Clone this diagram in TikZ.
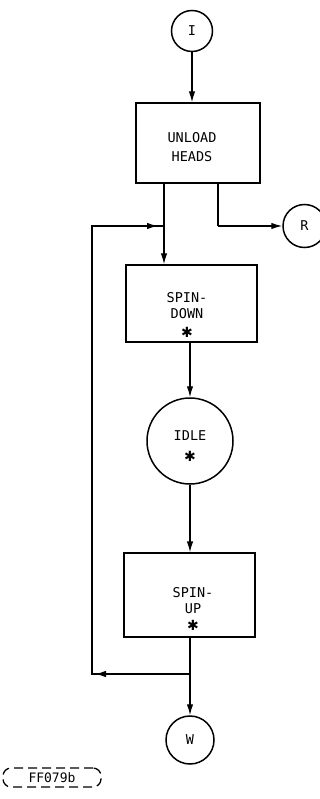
\documentclass[tikz,border=0pt]{standalone}
\usepackage{fontspec}
\setmonofont{DejaVu Sans Mono}
\newfontfamily\symfont{DejaVu Sans}
\usetikzlibrary{arrows.meta}
\begin{document}
\begin{tikzpicture}[x=1pt,y=-1pt,
  line width=1.3pt,
  stepbox/.style={draw,minimum width=#1,inner sep=0pt},
  conn/.style={draw,circle,inner sep=0pt,line width=1.5pt},
  lbl/.style={font=\ttfamily\fontsize{13.5}{16}\selectfont,align=center,inner sep=0pt},
  star/.style={font=\symfont\fontsize{14}{14}\selectfont,inner sep=0pt},
  arr/.style={-{Latex[length=11pt,width=6.5pt]}},
]
\useasboundingbox (0,0) rectangle (320,799);
\clip (0,0) rectangle (320,799);
% connectors (circles)
\node[conn,minimum size=41pt] (I) at (192,31) {};
\node[lbl] at (I) {I};
\node[conn,minimum size=43pt] (R) at (304.5,226) {};
\node[lbl] at (R) {R};
\node[conn,minimum size=86pt] (idle) at (190,441) {};
\node[lbl] (idlet) at (190,436) {IDLE};
\node[star] (idles) at (190,456) {✱};
\node[conn,minimum size=48pt] (W) at (190,740) {};
\node[lbl] at (W) {W};
% boxes
\node[stepbox=124pt,minimum height=80pt] (unload) at (198,143) {};
\node[lbl,font=\ttfamily\fontsize{13.5}{19.5}\selectfont] (unloadt) at (192,147) {UNLOAD\\HEADS};
\node[stepbox=131pt,minimum height=77pt] (down) at (191.5,303.5) {};
\node[lbl] (downt) at (187,306) {SPIN-\\DOWN};
\node[star] (downs) at (187,332) {✱};
\node[stepbox=131pt,minimum height=84pt] (up) at (189.5,595) {};
\node[lbl] (upt) at (193,601) {SPIN-\\UP};
\node[star] (ups) at (193,625) {✱};
% coordinates
\coordinate (uA) at (164,183);
\coordinate (uB) at (218,183);
\coordinate (rC) at (218,226);
\coordinate (j1) at (164,226);
\coordinate (tl) at (92,226);
\coordinate (bl) at (92,674);
\coordinate (j2) at (190,674);
% connectors
\draw[arr] (I.south) -- (I.south |- unload.north);
\draw[arr] (uA) -- (uA |- down.north);
\draw (uB) -- (rC);
\draw[arr] (rC) -- (R.west);
\draw[arr] (down.south -| idle.north) -- (idle.north);
\draw[arr] (idle.south) -- (idle.south |- up.north);
\draw[arr] (up.south -| W.north) -- (W.north);
\draw (j2) -- (bl) -- (tl) -- (j1);
\draw[arr] (j2) -- ([xshift=3pt]bl);
\draw[arr] (tl) -- ([xshift=-6pt]j1);
% label
\node[draw,dashed,dash pattern=on 9pt off 5pt,rounded corners=8pt,minimum width=98pt,minimum height=19pt,inner sep=0pt,
  font=\ttfamily\fontsize{13}{13}\selectfont] (ref) at (52,777.5) {\raisebox{-2pt}{FF079b}};
\end{tikzpicture}
\end{document}
